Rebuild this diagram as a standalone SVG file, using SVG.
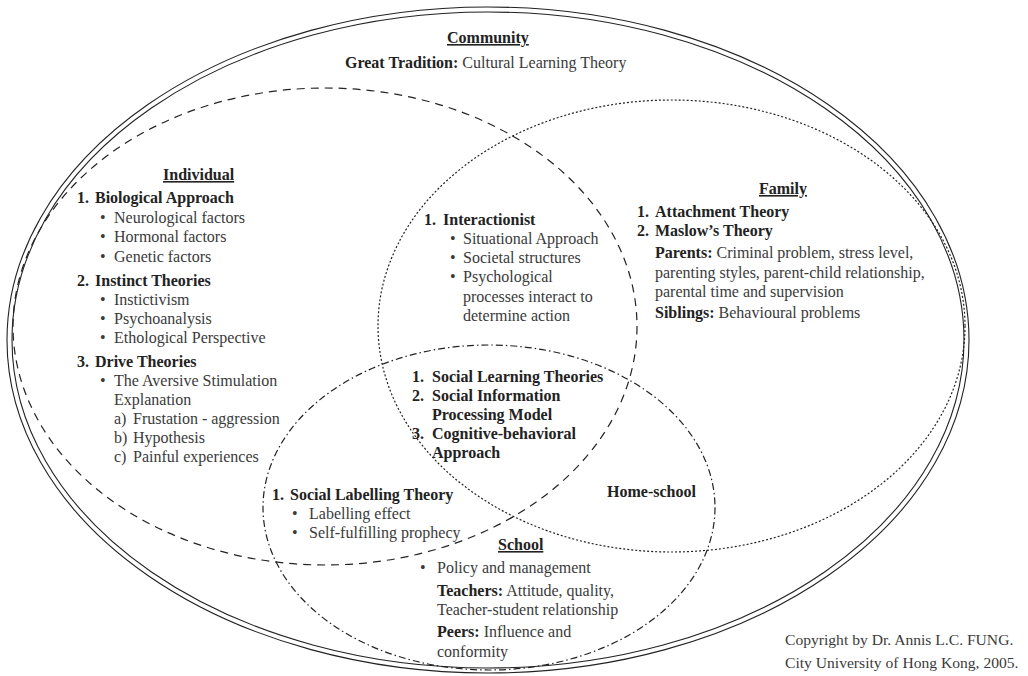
<svg xmlns="http://www.w3.org/2000/svg" width="1028" height="676" viewBox="0 0 1028 676">
<style>
text{font-family:"Liberation Serif","Times New Roman",serif;font-size:16px;fill:#3a3a3a}
.b{font-weight:bold;fill:#222}
.h{font-weight:bold;fill:#222;text-decoration:underline}
.c{font-size:15.6px}
.ring{fill:none;stroke:#222;stroke-width:1.1}
.ind{fill:none;stroke:#222;stroke-width:1.2;stroke-dasharray:8 6}
.fam{fill:none;stroke:#222;stroke-width:1.2;stroke-dasharray:2 2}
.sch{fill:none;stroke:#222;stroke-width:1.2;stroke-dasharray:7 3 1.5 3}
</style>
<rect width="1028" height="676" fill="#fff"/>
<g id="community">
<ellipse class="ring" cx="488" cy="340" rx="481" ry="333"/>
<ellipse class="ring" cx="488" cy="340" rx="476" ry="328"/>
<text class="h" x="447" y="43">Community</text>
<text x="345" y="68"><tspan class="b">Great Tradition:</tspan> Cultural Learning Theory</text>
</g>
<g id="individual">
<ellipse class="ind" cx="325" cy="326.5" rx="312" ry="238.5"/>
<text class="h" x="163" y="180">Individual</text>
<text class="b" x="77" y="203">1.</text><text class="b" x="95" y="203">Biological Approach</text>
<text x="100" y="222.5">•</text><text x="114" y="222.5">Neurological factors</text>
<text x="100" y="242">•</text><text x="114" y="242">Hormonal factors</text>
<text x="100" y="261.5">•</text><text x="114" y="261.5">Genetic factors</text>
<text class="b" x="77" y="286">2.</text><text class="b" x="95" y="286">Instinct Theories</text>
<text x="100" y="305">•</text><text x="114" y="305">Instictivism</text>
<text x="100" y="324">•</text><text x="114" y="324">Psychoanalysis</text>
<text x="100" y="343">•</text><text x="114" y="343">Ethological Perspective</text>
<text class="b" x="77" y="367">3.</text><text class="b" x="95" y="367">Drive Theories</text>
<text x="100" y="386">•</text><text x="114" y="386">The Aversive Stimulation</text>
<text x="114" y="405">Explanation</text>
<text x="114" y="424">a)</text><text x="133" y="424">Frustation - aggression</text>
<text x="114" y="443">b)</text><text x="133" y="443">Hypothesis</text>
<text x="114" y="462">c)</text><text x="133" y="462">Painful experiences</text>
</g>
<g id="family">
<ellipse class="fam" cx="671.5" cy="326" rx="293.5" ry="226"/>
<text class="h" x="759" y="194">Family</text>
<text class="b" x="637" y="217">1.</text><text class="b" x="655" y="217">Attachment Theory</text>
<text class="b" x="637" y="236">2.</text><text class="b" x="655" y="236">Maslow’s Theory</text>
<text x="655" y="258"><tspan class="b">Parents:</tspan> Criminal problem, stress level,</text>
<text x="655" y="278">parenting styles, parent-child relationship,</text>
<text x="655" y="297">parental time and supervision</text>
<text x="655" y="318"><tspan class="b">Siblings:</tspan> Behavioural problems</text>
</g>
<g id="school">
<ellipse class="sch" cx="489" cy="507.5" rx="226" ry="162.5"/>
<text class="h" x="498" y="550">School</text>
<text x="420" y="573">•</text><text x="437" y="573">Policy and management</text>
<text x="437" y="596"><tspan class="b">Teachers:</tspan> Attitude, quality,</text>
<text x="437" y="615">Teacher-student relationship</text>
<text x="437" y="637"><tspan class="b">Peers:</tspan> Influence and</text>
<text x="437" y="657">conformity</text>
</g>
<g id="individual-family">
<text class="b" x="424" y="225">1.</text><text class="b" x="443" y="225">Interactionist</text>
<text x="450" y="244">•</text><text x="463" y="244">Situational Approach</text>
<text x="450" y="263">•</text><text x="463" y="263">Societal structures</text>
<text x="450" y="282">•</text><text x="463" y="282">Psychological</text>
<text x="463" y="302">processes interact to</text>
<text x="463" y="321">determine action</text>
</g>
<g id="all-three">
<text class="b" x="412" y="382">1.</text><text class="b" x="432" y="382">Social Learning Theories</text>
<text class="b" x="412" y="401">2.</text><text class="b" x="432" y="401">Social Information</text>
<text class="b" x="432" y="420">Processing Model</text>
<text class="b" x="412" y="439">3.</text><text class="b" x="432" y="439">Cognitive-behavioral</text>
<text class="b" x="432" y="458">Approach</text>
</g>
<g id="individual-school">
<text class="b" x="272" y="500">1.</text><text class="b" x="290" y="500">Social Labelling Theory</text>
<text x="292" y="519">•</text><text x="309" y="519">Labelling effect</text>
<text x="292" y="538">•</text><text x="309" y="538">Self-fulfilling prophecy</text>
</g>
<g id="home-school">
<text class="b" x="607" y="497">Home-school</text>
</g>
<g id="copyright">
<text class="c" x="785" y="645">Copyright by Dr. Annis L.C. FUNG.</text>
<text class="c" x="785" y="668">City University of Hong Kong, 2005.</text>
</g>
</svg>
